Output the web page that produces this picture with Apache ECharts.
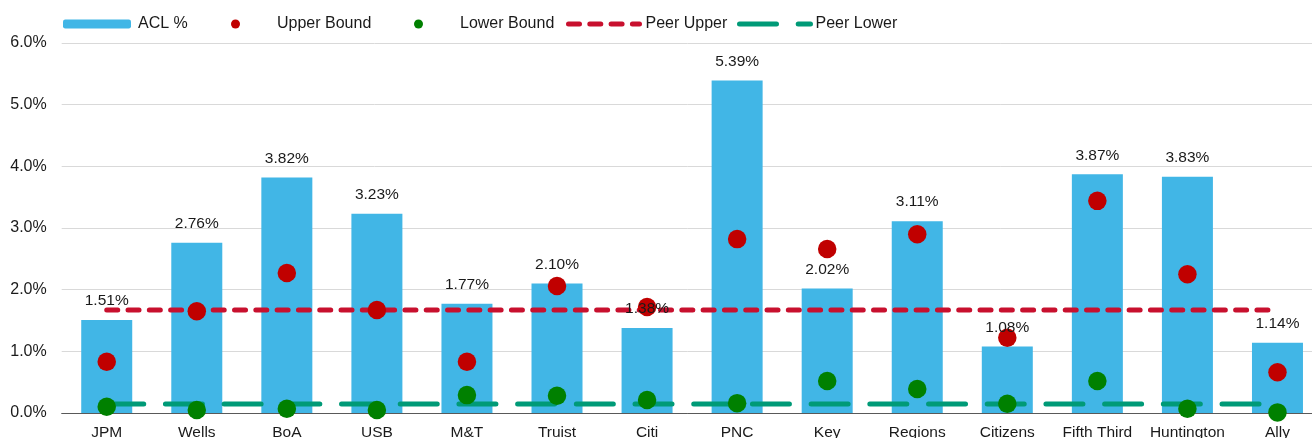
<!DOCTYPE html>
<html><head><meta charset="utf-8">
<script src="https://cdn.jsdelivr.net/npm/echarts@6/dist/echarts.min.js"></script>
<style>html,body{margin:0;padding:0;background:#fff}#c{width:1312px;height:438px}</style>
</head><body><div id="c"></div>
<script>
const categories = ['JPM','Wells','BoA','USB','M&T','Truist','Citi','PNC','Key','Regions','Citizens','Fifth Third','Huntington','Ally'];
const aclPct = [1.51,2.76,3.82,3.23,1.77,2.10,1.38,5.39,2.02,3.11,1.08,3.87,3.83,1.14];
const upperBound = [0.83,1.65,2.27,1.67,0.83,2.06,1.72,2.82,2.66,2.90,1.22,3.44,2.25,0.66];
const lowerBound = [0.10,0.05,0.07,0.05,0.29,0.28,0.21,0.16,0.52,0.39,0.15,0.52,0.07,0.01];
const peerUpper = [1.67,1.67,1.67,1.67,1.67,1.67,1.67,1.67,1.67,1.67,1.67,1.67,1.67,1.67];
const peerLower = [0.146,0.146,0.146,0.146,0.146,0.146,0.146,0.146,0.146,0.146,0.146,0.146,0.146,0.146];
const yTicks = [0,1,2,3,4,5,6];

const FONT = 'Liberation Sans, Arial, sans-serif';
const TXT = '#1a1a1a';
const RED_LINE = '#C8102E', GREEN_LINE = '#009A77';
const upperDash = {color: RED_LINE, width: 5, type: [11, 10.3], cap: 'round'};
const lowerDash = {color: GREEN_LINE, width: 5, type: [37, 21.7], cap: 'round'};
const lt = (padLeft) => ({fontFamily: FONT, fontSize: 16, color: TXT, padding: [0,0,0,padLeft]});
const chart = echarts.init(document.getElementById('c'), null, {renderer:'canvas'});
chart.setOption({
  animation: false,
  textStyle: {fontFamily: FONT},
  legend: [
    {data:['ACL %'], left: 63, top: 16, padding: 0, itemWidth: 68, itemHeight: 9, textStyle: lt(2)},
    {data:['Upper Bound'], left: 231, top: 16, padding: 0, itemWidth: 9, itemHeight: 9, icon:'circle', textStyle: lt(32)},
    {data:['Lower Bound'], left: 414, top: 16, padding: 0, itemWidth: 9, itemHeight: 9, icon:'circle', textStyle: lt(32)},
    {data:['Peer Upper'], left: 566, top: 16, padding: 0, itemWidth: 71, itemHeight: 12, textStyle: lt(1),
      itemStyle: {opacity: 0}, lineStyle: upperDash},
    {data:['Peer Lower'], left: 737, top: 16, padding: 0, itemWidth: 71, itemHeight: 12, textStyle: lt(0),
      itemStyle: {opacity: 0}, lineStyle: lowerDash}
  ],
  grid: {left: 61.7, right: -10.5, top: 43, bottom: 25, containLabel: false, outerBoundsMode: 'none'},
  xAxis: {
    type: 'category', data: categories,
    axisLine: {lineStyle: {color: '#595959', width: 1}},
    axisTick: {show: false},
    axisLabel: {fontFamily: FONT, fontSize: 15.5, color: TXT, margin: 12, interval: 0}
  },
  yAxis: {
    type: 'value', min: yTicks[0], max: yTicks[yTicks.length-1], interval: 1,
    axisLine: {show: false}, axisTick: {show: false},
    splitLine: {lineStyle: {color: '#d9d9d9', width: 1}},
    axisLabel: {fontFamily: FONT, fontSize: 16, color: TXT, margin: 15,
      formatter: v => v.toFixed(1) + '%'}
  },
  series: [
    {name: 'ACL %', type: 'bar', data: aclPct, barWidth: 51,
      itemStyle: {color: '#41B6E6'}, z: 1},
    {name: 'Peer Upper', type: 'line', data: peerUpper, symbol: 'none', z: 3,
      lineStyle: upperDash, itemStyle: {color: RED_LINE}},
    {name: 'Peer Lower', type: 'line', data: peerLower, symbol: 'none', z: 3,
      lineStyle: lowerDash, itemStyle: {color: GREEN_LINE}},
    {name: 'Upper Bound', type: 'scatter', data: upperBound, symbol: 'circle', symbolSize: 18.5, z: 5,
      itemStyle: {color: '#C00000', opacity: 1}},
    {name: 'Lower Bound', type: 'scatter', data: lowerBound, symbol: 'circle', symbolSize: 18.5, z: 5,
      itemStyle: {color: '#008000', opacity: 1}},
    {name: 'ACL labels', type: 'scatter', data: aclPct, symbol: 'circle', symbolSize: 1, z: 10, silent: true,
      itemStyle: {color: 'rgba(0,0,0,0)', opacity: 1},
      label: {show: true, position: 'top', distance: 10.5, fontFamily: FONT, fontSize: 15.5, color: TXT, opacity: 1,
        formatter: p => p.value.toFixed(2) + '%'}}
  ]
});
</script></body></html>
